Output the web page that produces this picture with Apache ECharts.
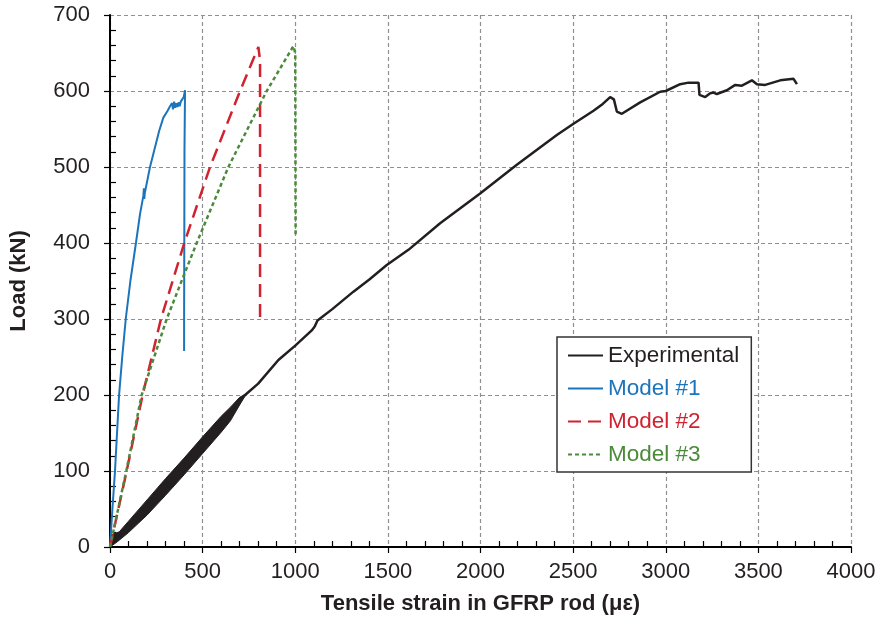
<!DOCTYPE html>
<html><head><meta charset="utf-8">
<script src="https://cdn.jsdelivr.net/npm/echarts@6/dist/echarts.min.js"></script>
<style>html,body{margin:0;padding:0;background:#fff}#c{width:882px;height:624px}</style>
</head><body><div id="c"></div>
<script>
// Axis settings
const xMin = 0, xMax = 4000, xInterval = 500;
const yMin = 0, yMax = 700, yInterval = 100;
const xAxisTitle = 'Tensile strain in GFRP rod (με)';
const yAxisTitle = 'Load (kN)';
const seriesNames = ['Experimental', 'Model #1', 'Model #2', 'Model #3'];

// Experimental: cyclic loading band (upper & lower envelope), then monotonic curve
const experimentalBandUpper = [[0,2],[5,16],[50,20],[100,34],[200,62],[300,90],[400,117],[500,145],[600,172],[650,184],[700,197],[730,201]];
const experimentalBandLower = [[730,199],[700,187],[650,166],[600,151],[500,123],[400,95],[300,68],[200,42],[100,19],[40,7],[0,0]];
const experimental = [[720,198],[729,199],[800,215],[909,246],[1000,265],[1089,285],[1105,290],[1120,298],[1200,313],[1314,336],[1400,352],[1494,371],[1611,391],[1782,426],[1998,465],[2196,503],[2412,542],[2502,557],[2610,574],[2660,583],[2700,592],[2720,589],[2736,573],[2763,570],[2862,585],[2970,599],[3000,600],[3078,609],[3123,611],[3177,611],[3182,595],[3213,592],[3240,597],[3258,598],[3276,596],[3330,601],[3375,608],[3411,607],[3465,614],[3492,609],[3537,608],[3618,614],[3690,616],[3708,609]];
const model1 = [[0,0],[13,50],[27,100],[38,150],[49,200],[66,250],[85,300],[110,350],[140,400],[162,438],[180,462],[183,472],[185,458],[188,466],[216,500],[243,526],[266,548],[288,565],[311,574],[324,580],[335,584],[340,576],[346,586],[352,578],[358,584],[364,579],[370,585],[376,580],[382,586],[390,585],[398,592],[405,601],[402,520],[402,510],[401,400],[400,300],[400,258]];
const model2 = [[0,0],[90,100],[176,200],[275,300],[401,400],[540,500],[702,600],[801,658],[810,640],[810,296]];
const model3 = [[0,0],[88,100],[171,200],[306,300],[401,359],[468,400],[639,500],[846,600],[990,659],[1000,650],[1002,408]];

const colors = {exp:'#231f20', m1:'#1c74bb', m2:'#cf2330', m3:'#4c8a3b'};
const FONT = "'Liberation Sans', Arial, sans-serif";

const chart = echarts.init(document.getElementById('c'), null, {renderer:'canvas'});
const axisCommon = {
  axisLine:{show:true, onZero:false, lineStyle:{color:'#000', width:2}},
  axisTick:{show:true, inside:false, length:6, lineStyle:{color:'#000', width:1.2}},
  minorTick:{show:true, splitNumber:5, length:-6, lineStyle:{color:'#000', width:1.2}},
  splitLine:{show:true, lineStyle:{color:'#8f8f8f', width:1.2, type:[4,3]}},
  axisLabel:{color:'#231f20', fontSize:22, fontFamily:FONT, formatter:function(v){return String(v);}},
  nameTextStyle:{color:'#231f20', fontSize:22, fontWeight:'bold', fontFamily:FONT},
  nameLocation:'middle'
};
chart.setOption({
  animation:false,
  backgroundColor:'#fff',
  grid:{left:110, right:31, top:15, bottom:77, containLabel:false, outerBoundsMode:'none'},
  legend:{
    show:true, left:557, top:337, orient:'vertical',
    padding:[7,12,6,10], itemGap:10, itemWidth:35, itemHeight:14,
    borderColor:'#333', borderWidth:1.5, backgroundColor:'#fff',
    itemStyle:{opacity:0},
    textStyle:{fontSize:22.5, fontFamily:FONT, lineHeight:22},
    data:[
      {name:seriesNames[0], textStyle:{color:colors.exp}},
      {name:seriesNames[1], textStyle:{color:colors.m1}},
      {name:seriesNames[2], textStyle:{color:colors.m2}},
      {name:seriesNames[3], textStyle:{color:colors.m3}}
    ]
  },
  xAxis:Object.assign({}, axisCommon, {
    type:'value', min:xMin, max:xMax, interval:xInterval,
    name:xAxisTitle, nameGap:46,
    axisLabel:Object.assign({}, axisCommon.axisLabel, {margin:14})
  }),
  yAxis:Object.assign({}, axisCommon, {
    type:'value', min:yMin, max:yMax, interval:yInterval,
    name:yAxisTitle, nameGap:80, nameRotate:90,
    axisLabel:Object.assign({}, axisCommon.axisLabel, {margin:20})
  }),
  series:[
    {
      name:'Experimental band', type:'custom', data:[[0,0]], silent:true, z:2,
      renderItem:function(params, api){
        const pts = experimentalBandUpper.concat(experimentalBandLower).map(p => api.coord(p));
        return {type:'polygon', shape:{points:pts}, style:{fill:colors.exp, stroke:colors.exp, lineWidth:1}};
      }
    },
    {name:seriesNames[0], type:'line', data:experimental, symbol:'none', z:3,
     lineStyle:{color:colors.exp, width:2.5}, itemStyle:{color:colors.exp}},
    {name:seriesNames[1], type:'line', data:model1, symbol:'none', z:4,
     lineStyle:{color:colors.m1, width:2}, itemStyle:{color:colors.m1}},
    {name:seriesNames[2], type:'line', data:model2, symbol:'none', z:5,
     lineStyle:{color:colors.m2, width:2.5, type:[13,7]}, itemStyle:{color:colors.m2}},
    {name:seriesNames[3], type:'line', data:model3, symbol:'none', z:6,
     lineStyle:{color:colors.m3, width:2.5, type:[4,3]}, itemStyle:{color:colors.m3}}
  ]
});
</script></body></html>
